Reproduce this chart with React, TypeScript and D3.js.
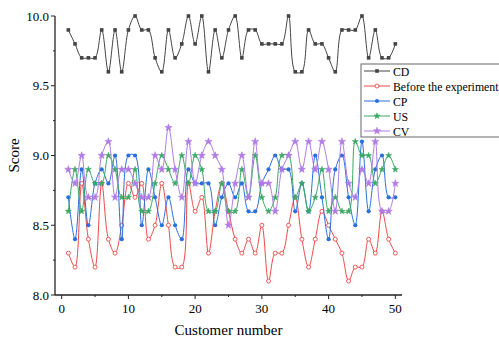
import * as d3 from "d3";

const width = 499;
const height = 338;
const margin = { top: 16, right: 97, bottom: 43, left: 55 };

// customer numbers on the x axis
const customers = d3.range(1, 51);

const cd = [9.9, 9.8, 9.7, 9.7, 9.7, 9.9, 9.6, 9.9, 9.6, 9.9, 10.0, 9.9, 9.9, 9.7, 9.6, 9.9, 9.7, 9.8, 10.0, 9.8,
  10.0, 9.6, 9.9, 9.7, 9.9, 10.0, 9.7, 9.9, 9.9, 9.8, 9.8, 9.8, 9.8, 10.0, 9.6, 9.6, 9.9, 9.8, 9.8, 9.7,
  9.6, 9.9, 9.9, 9.9, 10.0, 9.7, 9.9, 9.7, 9.7, 9.8];
const before = [8.3, 8.2, 8.8, 8.4, 8.2, 8.8, 8.4, 8.3, 8.5, 8.8, 8.7, 8.8, 8.4, 8.5, 8.8, 8.5, 8.2, 8.2, 8.8, 8.6,
  8.7, 8.3, 8.6, 8.8, 8.6, 8.4, 8.3, 8.4, 8.3, 8.5, 8.1, 8.3, 8.3, 8.5, 8.7, 8.4, 8.2, 8.4, 8.6, 8.5,
  8.4, 8.3, 8.1, 8.2, 8.2, 8.4, 8.3, 8.6, 8.4, 8.3];
const cp = [8.7, 8.4, 8.9, 8.5, 8.8, 8.9, 8.8, 9.0, 8.4, 9.0, 9.0, 8.5, 8.9, 8.7, 8.5, 8.7, 8.5, 8.4, 8.9, 8.8,
  8.8, 8.8, 8.5, 8.7, 8.8, 8.7, 8.8, 8.6, 8.6, 8.8, 8.9, 9.0, 8.9, 8.9, 8.6, 8.8, 8.6, 9.0, 8.7, 8.4,
  8.9, 9.0, 8.7, 8.5, 9.1, 8.6, 8.9, 9.0, 8.7, 8.7];
const us = [8.6, 8.9, 8.6, 8.9, 8.8, 8.8, 9.0, 8.9, 8.7, 8.7, 8.9, 8.6, 8.6, 8.8, 9.0, 8.9, 8.8, 9.0, 8.8, 9.0,
  8.9, 8.6, 8.6, 8.8, 8.6, 8.6, 8.9, 8.7, 9.0, 8.7, 8.6, 8.7, 9.0, 9.0, 8.7, 8.8, 8.6, 8.7, 8.9, 8.6,
  8.7, 8.6, 8.6, 9.1, 9.0, 9.0, 8.8, 8.9, 9.0, 8.9];
const cv = [8.9, 8.8, 9.0, 8.7, 8.7, 9.0, 9.1, 8.7, 8.9, 8.9, 8.8, 8.7, 8.7, 9.0, 8.9, 9.2, 8.9, 8.7, 9.1, 8.8,
  9.0, 9.1, 9.0, 8.9, 8.5, 8.8, 9.0, 8.7, 9.1, 8.8, 8.8, 8.6, 8.9, 9.0, 9.1, 8.9, 9.1, 8.9, 9.1, 8.9,
  8.6, 9.1, 8.8, 8.7, 8.9, 8.8, 9.1, 8.6, 8.6, 8.8];

const xTicks = [0, 10, 20, 30, 40, 50];
const yTicks = [8.0, 8.5, 9.0, 9.5, 10.0];

type Marker = "square" | "circle" | "dot" | "star" | "bigstar";

const series: { name: string; values: number[]; color: string; marker: Marker }[] = [
  { name: "CD", values: cd, color: "#444444", marker: "square" },
  { name: "Before the experiment", values: before, color: "#f04848", marker: "circle" },
  { name: "CP", values: cp, color: "#2a6fdc", marker: "dot" },
  { name: "US", values: us, color: "#3aa865", marker: "star" },
  { name: "CV", values: cv, color: "#b07ae6", marker: "bigstar" },
];

const font = "'Liberation Serif', 'Times New Roman', serif";

const MarkerShape = ({ type, x, y, color }: { type: Marker; x: number; y: number; color: string }) => {
  if (type === "square") return <rect x={x - 1.8} y={y - 1.8} width={3.6} height={3.6} fill={color} />;
  if (type === "circle") return <circle cx={x} cy={y} r={2} fill="#fff" stroke={color} strokeWidth={0.9} />;
  if (type === "dot") return <circle cx={x} cy={y} r={2.1} fill={color} />;
  const size = type === "bigstar" ? 16 : 11;
  const path = d3.symbol().type(d3.symbolStar).size(size)() as string;
  return <path d={path} transform={`translate(${x},${y})`} fill={color} stroke={color} strokeWidth={0.6} />;
};

const App = () => {
  const x = d3.scaleLinear().domain([-1, 51]).range([margin.left, width - margin.right]);
  const y = d3.scaleLinear().domain([8, 10]).range([height - margin.bottom, margin.top]);
  const line = d3
    .line<number>()
    .x((_, i) => x(customers[i]))
    .y((d) => y(d))
    .curve(d3.curveCatmullRom.alpha(0.5));

  const x0 = margin.left;
  const y0 = height - margin.bottom;
  const minorX = d3.range(5, 50, 10);
  const minorY = [8.25, 8.75, 9.25, 9.75];

  return (
    <svg
      width={width}
      height={height}
      style={{ position: "absolute", left: 0, top: 0, background: "#fff", overflow: "hidden", fontFamily: font }}
    >
      {series.map((s) => (
        <g key={s.name}>
          <path d={line(s.values) as string} fill="none" stroke={s.color} strokeWidth={1} />
          {s.values.map((v, i) => (
            <MarkerShape key={i} type={s.marker} x={x(customers[i])} y={y(v)} color={s.color} />
          ))}
        </g>
      ))}

      {/* axes */}
      <line x1={x0} x2={x0} y1={margin.top} y2={y0} stroke="#222" strokeWidth={1.3} />
      <line x1={x0} x2={width - margin.right} y1={y0} y2={y0} stroke="#222" strokeWidth={1.3} />
      {yTicks.map((t) => (
        <g key={t}>
          <line x1={x0 - 4} x2={x0} y1={y(t)} y2={y(t)} stroke="#222" />
          <text x={x0 - 6} y={y(t) + 4.5} textAnchor="end" fontSize={13}>
            {t.toFixed(1)}
          </text>
        </g>
      ))}
      {minorY.map((t) => (
        <line key={t} x1={x0 - 2} x2={x0} y1={y(t)} y2={y(t)} stroke="#222" />
      ))}
      {xTicks.map((t) => (
        <g key={t}>
          <line x1={x(t)} x2={x(t)} y1={y0} y2={y0 + 4} stroke="#222" />
          <text x={x(t)} y={y0 + 18} textAnchor="middle" fontSize={13}>
            {t}
          </text>
        </g>
      ))}
      {minorX.map((t) => (
        <line key={t} x1={x(t)} x2={x(t)} y1={y0} y2={y0 + 2} stroke="#222" />
      ))}

      <text x={(x0 + width - margin.right) / 2} y={335} textAnchor="middle" fontSize={15}>
        Customer number
      </text>
      <text transform={`translate(19,${(margin.top + y0) / 2}) rotate(-90)`} textAnchor="middle" fontSize={15}>
        Score
      </text>

      {/* legend */}
      <rect x={361} y={64} width={170} height={73} fill="#fff" stroke="#666" strokeWidth={1} />
      {series.map((s, i) => {
        const ly = 71 + i * 15;
        return (
          <g key={s.name}>
            <line x1={364} x2={390} y1={ly} y2={ly} stroke={s.color} strokeWidth={1} />
            <MarkerShape type={s.marker} x={377} y={ly} color={s.color} />
            <text x={393} y={ly + 4.5} fontSize={11.8}>
              {s.name}
            </text>
          </g>
        );
      })}
    </svg>
  );
};

export default App;
